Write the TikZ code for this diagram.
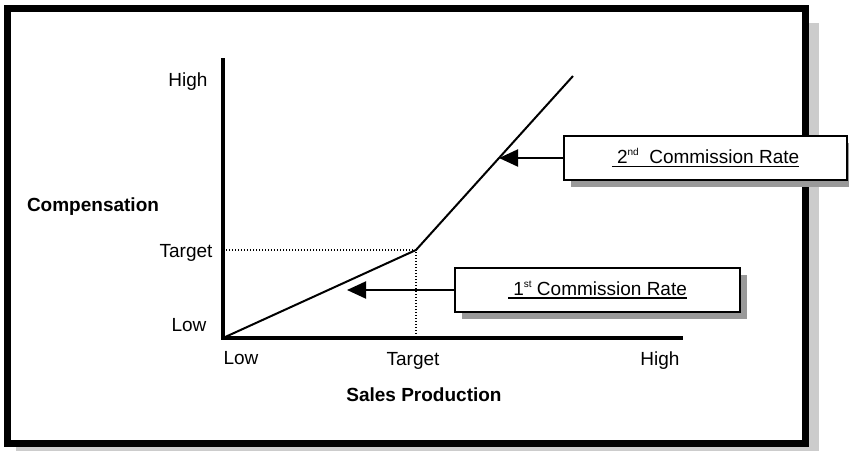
\documentclass[tikz,border=0pt]{standalone}
\usepackage{fontspec}
\setmainfont{Liberation Sans}
\usetikzlibrary{arrows.meta,shadows}

\definecolor{frameshade}{gray}{0.8}
\definecolor{boxshade}{gray}{0.6}

% underline that keeps the leading space
\newcommand{\ulrate}[1]{\setbox0\hbox{#1}\rlap{\rule[-3.5pt]{\wd0}{1.8pt}}\box0}
\newcommand{\ordsup}[1]{\raisebox{8pt}{\fontsize{10}{10}\selectfont #1}}

\begin{document}
\begin{tikzpicture}[x=1pt,y=-1pt,
  lbl/.style={font=\fontsize{19}{22}\selectfont,inner sep=0pt,anchor=base},
  ttl/.style={lbl,font=\fontsize{19}{22}\selectfont\bfseries},
  ratebox/.style={draw,line width=1.5pt,fill=white,minimum height=44pt,inner sep=0pt,
    font=\fontsize{19}{22}\selectfont,
    general shadow={fill=boxshade,shadow xshift=7pt,shadow yshift=-7pt}},
  pointer/.style={line width=2pt,-{Triangle[length=19pt,width=17pt]}}]
\useasboundingbox (0,0) rectangle (849,451);

% Frame with shadow
\fill[frameshade] (16,23) rectangle (819,451);
\draw[line width=7pt,fill=white] (7,8) rectangle (805,443);

% Axes
\coordinate (origin) at (223,338);
\coordinate (ytop) at (223,58);
\coordinate (xend) at (683,338);
\coordinate (kink) at (416,250);
\coordinate (top) at (573,76);
\draw[line width=4pt] (ytop) -- (origin) -- (xend);

% Target guides
\draw[dash pattern=on 1.2pt off 1.8pt,line width=1.2pt] (origin |- kink) -- (kink) -- (kink |- origin);

% Compensation curve
\draw[line width=2pt] (origin) -- (kink) -- (top);

% Axis labels
\node[lbl] (yhigh) at (188,86) {High};
\node[lbl] (ytarget) at (186,257) {Target};
\node[lbl] (ylow) at (189,331) {Low};
\node[lbl] (xlow) at (241,364) {Low};
\node[lbl] (xtarget) at (413,365) {Target};
\node[lbl] (xhigh) at (660,365) {High};

\node[ttl] (ytitle) at (93,211) {Compensation};
\node[ttl] (xtitle) at (424,401) {Sales Production};

% Rate boxes
\node[ratebox,minimum width=283pt] (rate2) at (705.5,158) {\ulrate{\ 2\ordsup{nd}\ \ Commission Rate}};
\node[ratebox,minimum width=285pt] (rate1) at (597.5,290) {\ulrate{\ 1\ordsup{st} Commission Rate}};

\coordinate (tip2) at (499,158);
\coordinate (tip1) at (347,290);
\draw[pointer] (rate2.west) -- (tip2);
\draw[pointer] (rate1.west) -- (tip1);
\end{tikzpicture}
\end{document}
